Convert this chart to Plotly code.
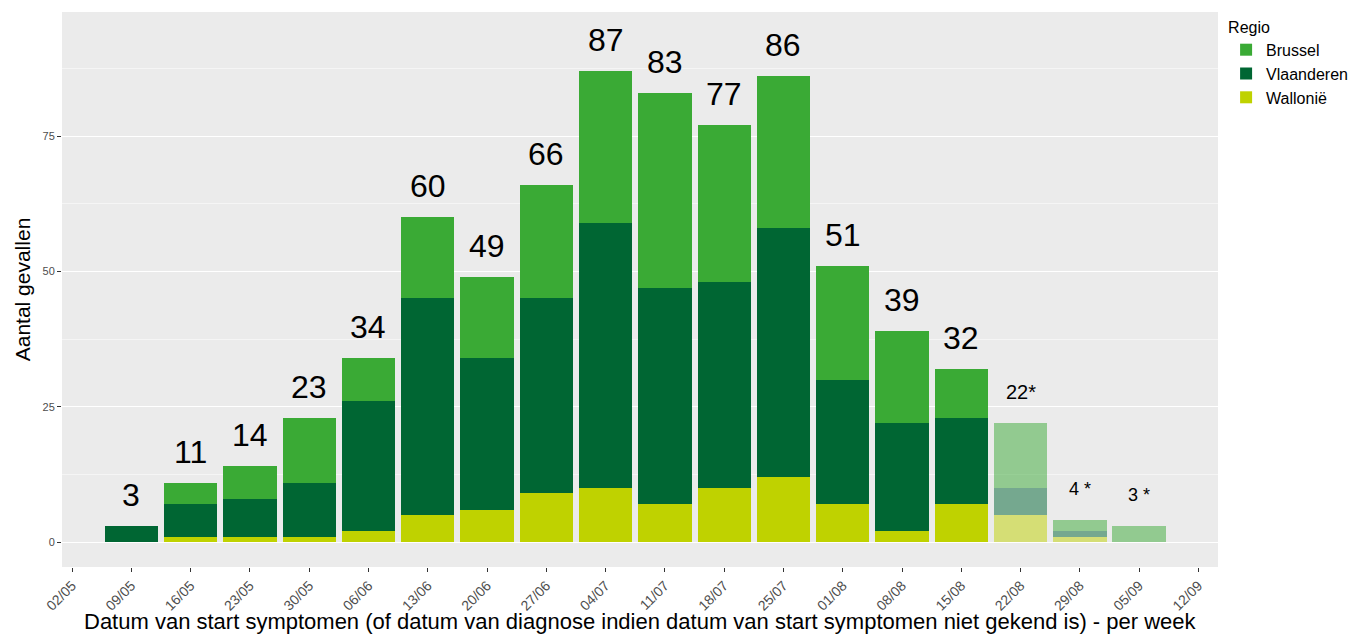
import plotly.graph_objects as go

tick_labels = ["02/05", "09/05", "16/05", "23/05", "30/05", "06/06", "13/06", "20/06",
               "27/06", "04/07", "11/07", "18/07", "25/07", "01/08", "08/08", "15/08",
               "22/08", "29/08", "05/09", "12/09"]
weeks = ["09/05", "16/05", "23/05", "30/05", "06/06", "13/06", "20/06", "27/06", "04/07",
         "11/07", "18/07", "25/07", "01/08", "08/08", "15/08", "22/08", "29/08", "05/09"]
wallonie = [0, 1, 1, 1, 2, 5, 6, 9, 10, 7, 10, 12, 7, 2, 7, 5, 1, 0]
vlaanderen = [3, 6, 7, 10, 24, 40, 28, 36, 49, 40, 38, 46, 23, 20, 16, 5, 1, 0]
brussel = [0, 4, 6, 12, 8, 15, 15, 21, 28, 36, 29, 28, 21, 17, 9, 12, 2, 3]
incomplete = [False] * 15 + [True, True, True]
labels = ["3", "11", "14", "23", "34", "60", "49", "66", "87", "83", "77", "86", "51",
          "39", "32", "22*", "4 *", "3 *"]
x_title = "Datum van start symptomen (of datum van diagnose indien datum van start symptomen niet gekend is) - per week"

xpos = [tick_labels.index(w) for w in weeks]
totals = [a + b + c for a, b, c in zip(wallonie, vlaanderen, brussel)]
opac = [0.5 if f else 1.0 for f in incomplete]

fig = go.Figure()
for name, vals, col in [("Wallonië", wallonie, "#BFD200"),
                        ("Vlaanderen", vlaanderen, "#006633"),
                        ("Brussel", brussel, "#3AAA35")]:
    fig.add_trace(go.Bar(x=xpos, y=vals, name=name, width=0.9,
                         marker=dict(color=col, opacity=opac, line=dict(width=0))))

for x, t, lab, inc in zip(xpos, totals, labels, incomplete):
    fig.add_annotation(x=x, y=t, text=lab, showarrow=False, yanchor="middle",
                       yshift=31, font=dict(size=(20 if lab.startswith("22") else 18) if inc else 32,
                                            color="black", family="Liberation Sans, Arial"))

fig.add_annotation(xref="paper", yref="paper", x=0.5, y=-0.099, yanchor="middle",
                   text=x_title, showarrow=False, font=dict(size=22, color="black"))

fig.update_layout(
    barmode="stack",
    width=1349, height=627,
    margin=dict(l=54, r=139, t=4, b=68, autoexpand=False),
    paper_bgcolor="white", plot_bgcolor="#EBEBEB",
    font=dict(family="Liberation Sans, Arial", color="black"),
    bargap=0,
    legend=dict(title=dict(text="Regio", font=dict(size=16)), traceorder="reversed",
                x=1.007, xanchor="left", y=1.0, yanchor="top", font=dict(size=16),
                itemwidth=30, tracegroupgap=0),
    xaxis=dict(tickmode="array", tickvals=list(range(len(tick_labels))), ticktext=tick_labels,
               range=[-0.17, 19.33], tickangle=-45, showgrid=False, zeroline=False,
               automargin=False,
               ticks="outside", ticklen=4, tickcolor="#333333",
               tickfont=dict(size=14, color="#4D4D4D")),
    yaxis=dict(range=[-4.6, 97.9], tickvals=[0, 25, 50, 75], showgrid=True,
               gridcolor="white", gridwidth=1.3, zeroline=False, automargin=False,
               minor=dict(tickvals=[12.5, 37.5, 62.5, 87.5], showgrid=True,
                          gridcolor="#F5F5F5", gridwidth=0.7),
               ticks="outside", ticklen=4, tickcolor="#333333",
               tickfont=dict(size=11, color="#4D4D4D"),
               title=dict(text="Aantal gevallen", font=dict(size=21), standoff=6)),
)

fig.write_html("out.html")
